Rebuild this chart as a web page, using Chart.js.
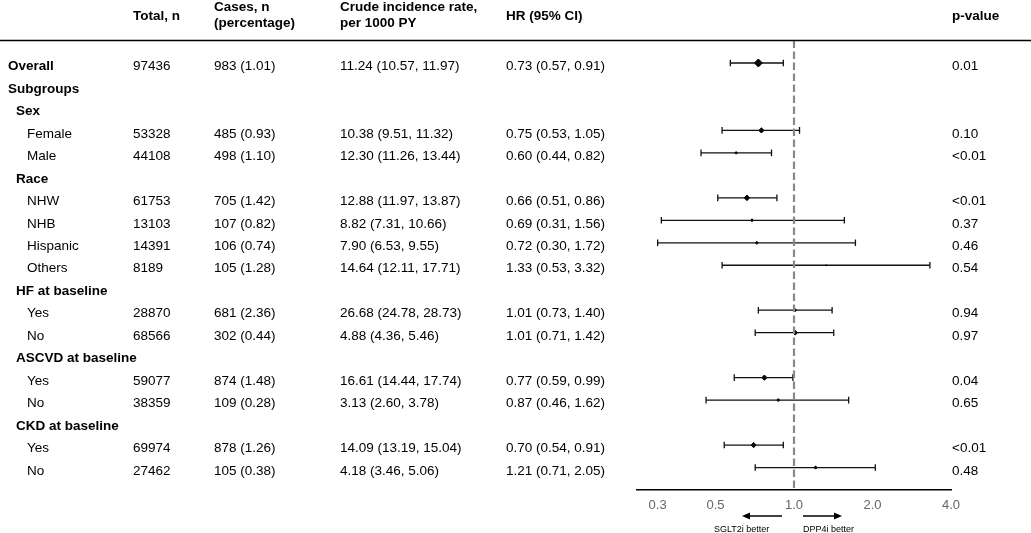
<!DOCTYPE html>
<html>
<head>
<meta charset="utf-8">
<script src="https://cdn.jsdelivr.net/npm/chart.js@4.4.1/dist/chart.umd.min.js"></script>
<style>
  body { margin: 0; background: #fff; }
  #wrap { width: 1031px; height: 533px; position: relative; }
</style>
</head>
<body>
<div id="wrap"><canvas id="canvas"></canvas></div>
<script>
// table rows, top to bottom
var rowLabels = ['Overall', 'Subgroups', 'Sex', 'Female', 'Male', 'Race', 'NHW', 'NHB', 'Hispanic', 'Others',
  'HF at baseline', 'Yes', 'No', 'ASCVD at baseline', 'Yes', 'No', 'CKD at baseline', 'Yes', 'No'];
// 0 = top level, 1 = group heading, 2 = subgroup
var rowLevel = [0, 0, 1, 2, 2, 1, 2, 2, 2, 2, 1, 2, 2, 1, 2, 2, 1, 2, 2];

var totalN = [97436, null, null, 53328, 44108, null, 61753, 13103, 14391, 8189, null, 28870, 68566, null, 59077, 38359, null, 69974, 27462];
var casesN = [983, null, null, 485, 498, null, 705, 107, 106, 105, null, 681, 302, null, 874, 109, null, 878, 105];
var casesPct = [1.01, null, null, 0.93, 1.10, null, 1.42, 0.82, 0.74, 1.28, null, 2.36, 0.44, null, 1.48, 0.28, null, 1.26, 0.38];
var rate = [11.24, null, null, 10.38, 12.30, null, 12.88, 8.82, 7.90, 14.64, null, 26.68, 4.88, null, 16.61, 3.13, null, 14.09, 4.18];
var rateLo = [10.57, null, null, 9.51, 11.26, null, 11.97, 7.31, 6.53, 12.11, null, 24.78, 4.36, null, 14.44, 2.60, null, 13.19, 3.46];
var rateHi = [11.97, null, null, 11.32, 13.44, null, 13.87, 10.66, 9.55, 17.71, null, 28.73, 5.46, null, 17.74, 3.78, null, 15.04, 5.06];
var hr = [0.73, null, null, 0.75, 0.60, null, 0.66, 0.69, 0.72, 1.33, null, 1.01, 1.01, null, 0.77, 0.87, null, 0.70, 1.21];
var hrLo = [0.57, null, null, 0.53, 0.44, null, 0.51, 0.31, 0.30, 0.53, null, 0.73, 0.71, null, 0.59, 0.46, null, 0.54, 0.71];
var hrHi = [0.91, null, null, 1.05, 0.82, null, 0.86, 1.56, 1.72, 3.32, null, 1.40, 1.42, null, 0.99, 1.62, null, 0.91, 2.05];
var pValue = ['0.01', '', '', '0.10', '<0.01', '', '<0.01', '0.37', '0.46', '0.54', '', '0.94', '0.97', '', '0.04', '0.65', '', '<0.01', '0.48'];

// marker size (weight of each estimate)
var markerRadius = [4, 0, 0, 2.6, 1.3, 0, 2.8, 1.5, 1.5, 0.6, 0, 1.5, 2.4, 0, 2.6, 1.5, 0, 2.6, 1.6];

var tickValues = [0.3, 0.5, 1, 2, 4];
var tickLabels = ['0.3', '0.5', '1.0', '2.0', '4.0'];

var FONT = '"Liberation Sans", Arial, sans-serif';

function fmt(v){ return v.toFixed(2); }

var datasets = [];

// reference line at HR = 1
datasets.push({
  data: [{x: 1, y: -1}, {x: 1, y: 19}],
  showLine: true,
  borderColor: '#888',
  borderWidth: 2.2,
  borderDash: [7.5, 3.5],
  pointRadius: 0
});

// confidence intervals, one per row
hr.forEach(function(v, i){
  if (v === null) return;
  datasets.push({
    data: [{x: hrLo[i], y: i}, {x: hrHi[i], y: i}],
    showLine: true,
    borderColor: '#111',
    borderWidth: 1.3,
    pointStyle: 'line',
    rotation: 90,
    pointRadius: 3.3,
    pointBorderWidth: 1.3,
    pointBorderColor: '#111'
  });
});

// point estimates
var pts = [], radii = [];
hr.forEach(function(v, i){
  if (v === null) return;
  pts.push({x: v, y: i});
  radii.push(markerRadius[i]);
});
datasets.push({
  data: pts,
  pointStyle: 'rectRot',
  pointRadius: radii,
  backgroundColor: '#000',
  borderColor: '#000',
  pointBorderWidth: 1
});

var tablePlugin = {
  id: 'forestTable',
  afterDraw: function(chart){
    var ctx = chart.ctx;
    var ys = chart.scales.y, xs = chart.scales.x;
    var area = chart.chartArea;
    ctx.save();
    ctx.fillStyle = '#000';
    ctx.textBaseline = 'middle';
    ctx.textAlign = 'left';

    // header
    ctx.font = 'bold 13.5px ' + FONT;
    ctx.fillText('Total, n', 133, 16);
    ctx.fillText('Cases, n', 214, 7);
    ctx.fillText('(percentage)', 214, 23.5);
    ctx.fillText('Crude incidence rate,', 340, 7);
    ctx.fillText('per 1000 PY', 340, 23.5);
    ctx.fillText('HR (95% CI)', 506, 16);
    ctx.fillText('p-value', 952, 16);

    ctx.strokeStyle = '#000';
    ctx.lineWidth = 1.5;
    ctx.beginPath();
    ctx.moveTo(0, area.top);
    ctx.lineTo(chart.width, area.top);
    ctx.stroke();

    // rows
    rowLabels.forEach(function(lab, i){
      var y = ys.getPixelForValue(i) + 3.5;
      var lvl = rowLevel[i];
      var bold = lvl < 2;
      ctx.font = (bold ? 'bold ' : '') + '13.5px ' + FONT;
      ctx.fillText(lab, lvl === 0 ? 8 : (lvl === 1 ? 16 : 27), y);
      ctx.font = '13.5px ' + FONT;
      if (totalN[i] !== null) {
        ctx.fillText(String(totalN[i]), 133, y);
        ctx.fillText(casesN[i] + ' (' + fmt(casesPct[i]) + ')', 214, y);
        ctx.fillText(fmt(rate[i]) + ' (' + fmt(rateLo[i]) + ', ' + fmt(rateHi[i]) + ')', 340, y);
        ctx.fillText(fmt(hr[i]) + ' (' + fmt(hrLo[i]) + ', ' + fmt(hrHi[i]) + ')', 506, y);
        ctx.fillText(pValue[i], 952, y);
      }
    });

    // direction arrows under the axis
    var p1 = xs.getPixelForValue(1);
    var ay = 516;
    ctx.lineWidth = 1.5;
    function arrow(xFrom, xTo){
      var d = xTo > xFrom ? 1 : -1;
      ctx.beginPath();
      ctx.moveTo(xFrom, ay);
      ctx.lineTo(xTo - d * 5, ay);
      ctx.stroke();
      ctx.beginPath();
      ctx.moveTo(xTo, ay);
      ctx.lineTo(xTo - d * 8, ay - 3.5);
      ctx.lineTo(xTo - d * 8, ay + 3.5);
      ctx.closePath();
      ctx.fill();
    }
    arrow(p1 - 12, p1 - 52);
    arrow(p1 + 9, p1 + 48);
    ctx.font = '9px ' + FONT;
    ctx.fillText('SGLT2i better', p1 - 80, 530);
    ctx.fillText('DPP4i better', p1 + 9, 530);
    ctx.restore();
  }
};

new Chart(document.getElementById('canvas'), {
  type: 'scatter',
  data: { datasets: datasets },
  options: {
    responsive: true,
    maintainAspectRatio: false,
    animation: false,
    layout: { padding: { left: 637, right: 80, top: 40.5, bottom: 0 } },
    plugins: { legend: { display: false }, tooltip: { enabled: false } },
    scales: {
      x: {
        type: 'logarithmic',
        min: 0.25,
        max: 4,
        grid: { display: false, drawTicks: false },
        border: { display: true, color: '#000', width: 1.5 },
        afterBuildTicks: function(axis){
          axis.ticks = tickValues.map(function(v){ return {value: v}; });
        },
        afterFit: function(axis){ axis.height = 43; },
        ticks: {
          autoSkip: false,
          maxRotation: 0,
          padding: 8,
          color: '#666',
          font: { family: FONT, size: 13 },
          callback: function(v){
            var k = tickValues.indexOf(v);
            return k >= 0 ? tickLabels[k] : '';
          }
        }
      },
      y: {
        type: 'linear',
        min: -1,
        max: 19,
        reverse: true,
        display: false
      }
    }
  },
  plugins: [tablePlugin]
});
</script>
</body>
</html>
